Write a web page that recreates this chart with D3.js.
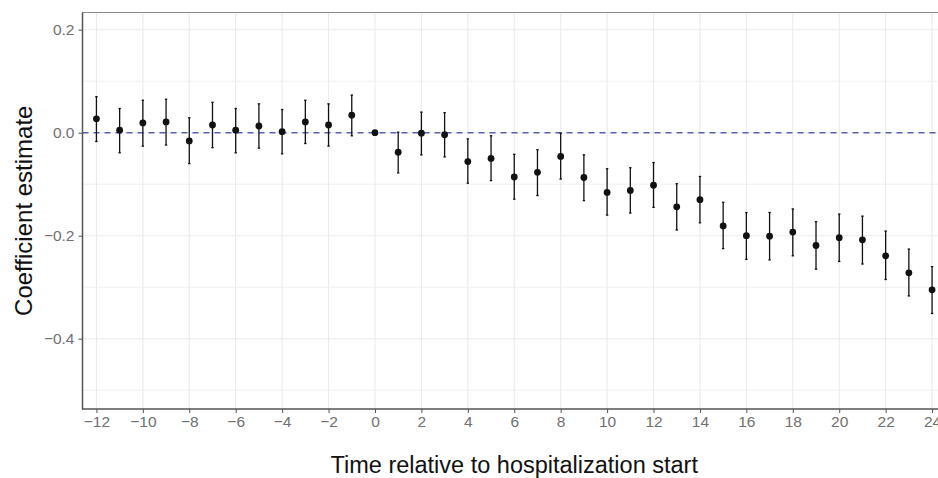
<!DOCTYPE html>
<html>
<head>
<meta charset="utf-8">
<script src="https://cdn.jsdelivr.net/npm/d3@7"></script>
<style>
  html, body { margin: 0; padding: 0; background: #fff; }
  svg { display: block; font-family: "Liberation Sans", Arial, Helvetica, sans-serif; }
</style>
</head>
<body>
<svg id="chart" width="938" height="478"></svg>
<script>
// Event-time periods relative to hospitalization start
const periods = [-12, -11, -10, -9, -8, -7, -6, -5, -4, -3, -2, -1, 0,
  1, 2, 3, 4, 5, 6, 7, 8, 9, 10, 11, 12, 13, 14, 15, 16, 17, 18, 19, 20, 21, 22, 23, 24];

// Point estimates
const estimates = [0.027, 0.005, 0.019, 0.021, -0.016, 0.015, 0.005, 0.013, 0.002, 0.021, 0.015, 0.034, 0.000,
  -0.038, -0.001, -0.004, -0.056, -0.050, -0.086, -0.077, -0.046, -0.087, -0.116, -0.112, -0.102, -0.144,
  -0.130, -0.181, -0.200, -0.201, -0.193, -0.219, -0.204, -0.208, -0.239, -0.272, -0.305];

// Lower and upper confidence bounds
const lowerCI = [-0.017, -0.039, -0.026, -0.024, -0.060, -0.029, -0.039, -0.030, -0.041, -0.021, -0.026, -0.006, 0.000,
  -0.078, -0.043, -0.047, -0.098, -0.093, -0.129, -0.122, -0.090, -0.132, -0.160, -0.156, -0.145, -0.189,
  -0.175, -0.225, -0.246, -0.247, -0.239, -0.265, -0.250, -0.255, -0.285, -0.317, -0.351];
const upperCI = [0.070, 0.047, 0.063, 0.065, 0.029, 0.059, 0.047, 0.056, 0.045, 0.063, 0.056, 0.073, 0.000,
  0.001, 0.040, 0.039, -0.012, -0.006, -0.042, -0.033, -0.001, -0.043, -0.070, -0.068, -0.058, -0.099,
  -0.085, -0.135, -0.155, -0.155, -0.148, -0.173, -0.158, -0.162, -0.191, -0.226, -0.260];

// Axis breaks
const xTicks = [-12, -10, -8, -6, -4, -2, 0, 2, 4, 6, 8, 10, 12, 14, 16, 18, 20, 22, 24];
const yTicks = [0.2, 0.0, -0.2, -0.4];
const yMinorTicks = [0.1, -0.1, -0.3, -0.5];

const data = periods.map((t, i) => ({ t, est: estimates[i], lo: lowerCI[i], hi: upperCI[i] }));

const svg = d3.select("#chart");
const panel = { left: 82.5, top: 12.5, right: 946, bottom: 409 };

const x = d3.scaleLinear().domain([-12.6, 24.6]).range([panel.left, panel.right]);
const y = d3.scaleLinear().domain([-0.5365, 0.2334]).range([panel.bottom, panel.top]);

const fmtY = v => (v === 0 ? "0.0" : d3.format(".1f")(v).replace("-", "\u2212"));
const fmtX = v => String(v).replace("-", "\u2212");

// Panel background gridlines
const grid = svg.append("g");
grid.selectAll("line.ymin").data(yMinorTicks).join("line")
  .attr("x1", panel.left).attr("x2", panel.right)
  .attr("y1", d => y(d)).attr("y2", d => y(d))
  .attr("stroke", "#efefef").attr("stroke-width", 1);
grid.selectAll("line.ymaj").data(yTicks).join("line")
  .attr("x1", panel.left).attr("x2", panel.right)
  .attr("y1", d => y(d)).attr("y2", d => y(d))
  .attr("stroke", "#ebebeb").attr("stroke-width", 1.1);
grid.selectAll("line.xmaj").data(xTicks).join("line")
  .attr("x1", d => x(d)).attr("x2", d => x(d))
  .attr("y1", panel.top).attr("y2", panel.bottom)
  .attr("stroke", "#ebebeb").attr("stroke-width", 1.1);

// Reference line at zero
svg.append("line")
  .attr("x1", panel.left).attr("x2", panel.right)
  .attr("y1", y(0)).attr("y2", y(0))
  .attr("stroke", "#5b60b0").attr("stroke-width", 1.4)
  .attr("stroke-dasharray", "6,5");

// Confidence intervals
const bars = svg.append("g").attr("stroke", "#111").attr("stroke-width", 1.3);
const ciData = data.filter(d => d.hi !== d.lo);
bars.selectAll("line.v").data(ciData).join("line")
  .attr("x1", d => x(d.t)).attr("x2", d => x(d.t))
  .attr("y1", d => y(d.hi)).attr("y2", d => y(d.lo));
bars.selectAll("line.capHi").data(ciData).join("line")
  .attr("x1", d => x(d.t) - 1.2).attr("x2", d => x(d.t) + 1.2)
  .attr("y1", d => y(d.hi)).attr("y2", d => y(d.hi));
bars.selectAll("line.capLo").data(ciData).join("line")
  .attr("x1", d => x(d.t) - 1.2).attr("x2", d => x(d.t) + 1.2)
  .attr("y1", d => y(d.lo)).attr("y2", d => y(d.lo));

// Point estimates
svg.append("g").selectAll("circle").data(data).join("circle")
  .attr("cx", d => x(d.t)).attr("cy", d => y(d.est))
  .attr("r", 3.4).attr("fill", "#111");

// Panel border (top)
svg.append("line").attr("x1", panel.left).attr("x2", panel.right)
  .attr("y1", panel.top).attr("y2", panel.top)
  .attr("stroke", "#8a8a8a").attr("stroke-width", 1);

// Axes
const xAxis = svg.append("g").attr("transform", `translate(0,${panel.bottom})`)
  .call(d3.axisBottom(x).tickValues(xTicks).tickFormat(fmtX).tickSize(4).tickPadding(3));
const yAxis = svg.append("g").attr("transform", `translate(${panel.left},0)`)
  .call(d3.axisLeft(y).tickValues(yTicks).tickFormat(fmtY).tickSize(4).tickPadding(4));

[xAxis, yAxis].forEach(a => {
  a.select(".domain").remove();
  a.selectAll(".tick line").attr("stroke", "#555").attr("stroke-width", 1);
  a.selectAll(".tick text").attr("fill", "#707070").attr("font-size", 15.5)
    .attr("font-family", "'Liberation Sans', Arial, sans-serif");
});

svg.append("line").attr("x1", panel.left).attr("x2", panel.left)
  .attr("y1", panel.top).attr("y2", panel.bottom + 0.5)
  .attr("stroke", "#555").attr("stroke-width", 1.5);
svg.append("line").attr("x1", panel.left - 0.5).attr("x2", panel.right)
  .attr("y1", panel.bottom).attr("y2", panel.bottom)
  .attr("stroke", "#555").attr("stroke-width", 1.5);

// Axis titles, centred on the panel
svg.append("text")
  .attr("x", (panel.left + panel.right) / 2).attr("y", 472.5)
  .attr("text-anchor", "middle")
  .attr("font-size", 23.5).attr("fill", "#111")
  .text("Time relative to hospitalization start");

svg.append("text")
  .attr("transform", `translate(32,${(panel.top + panel.bottom) / 2}) rotate(-90)`)
  .attr("text-anchor", "middle")
  .attr("font-size", 24).attr("fill", "#111")
  .text("Coefficient estimate");
</script>
</body>
</html>
